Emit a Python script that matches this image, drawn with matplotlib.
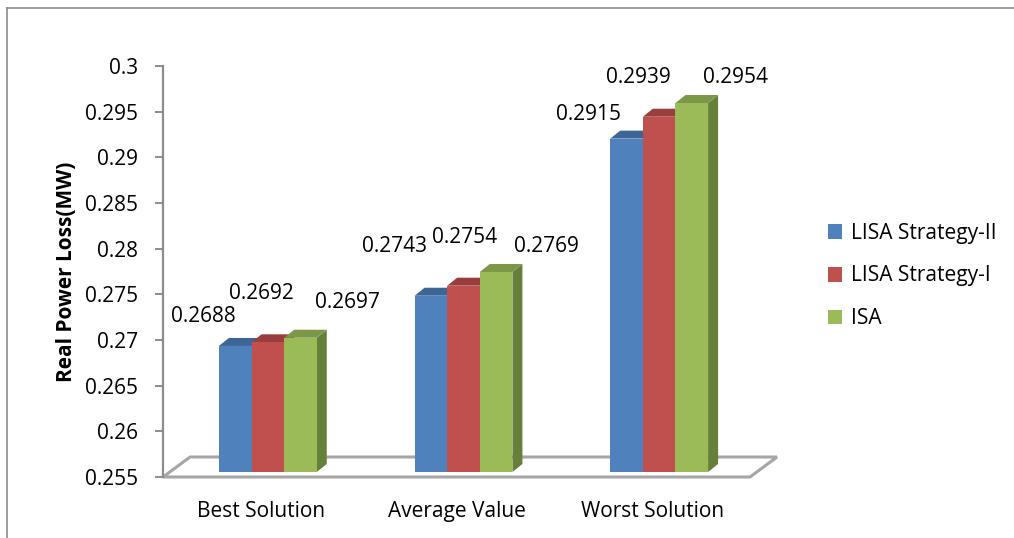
import matplotlib.pyplot as plt
from matplotlib.patches import Polygon, Rectangle, Patch

plt.rcParams['font.family'] = ['Open Sans', 'DejaVu Sans']

# data
categories = ['Best Solution', 'Average Value', 'Worst Solution']
series = ['LISA Strategy-II', 'LISA Strategy-I', 'ISA']
lisa2 = [0.2688, 0.2743, 0.2915]
lisa1 = [0.2692, 0.2754, 0.2939]
isa = [0.2697, 0.2769, 0.2954]
yticks = [0.255, 0.26, 0.265, 0.27, 0.275, 0.28, 0.285, 0.29, 0.295, 0.3]

front = ['#4F81BD', '#C0504D', '#9BBB59']
top = ['#3D6696', '#993E3C', '#7B9747']
side = ['#385D8A', '#8C3A38', '#66803A']

# label offsets in pixels from bar front-top centre (x right, y up)
label_off = [[(-32, 29), (-6, 49), (47, 35)],
             [(-36, 49), (1, 48), (50, 25)],
             [(-38, 24), (-21, 39), (44, 26)]]

fig = plt.figure(figsize=(10.14, 5.38), dpi=100)
ax = fig.add_axes([163 / 1014, 61 / 538, 587 / 1014, 411 / 538])
ymin, ymax = 0.255, 0.3
ax.set_xlim(-0.5, 2.5)
ax.set_ylim(ymin, ymax)

# pixel -> data unit factors
px_x = 3 / ax.bbox.width
px_y = (ymax - ymin) / ax.bbox.height

# floor
fdx, fdy = 27 * px_x, 20 * px_y
floor = Polygon([(-0.5, ymin), (2.5, ymin), (2.5 + fdx, ymin + fdy), (-0.5 + fdx, ymin + fdy)],
                closed=True, facecolor='white', edgecolor='#a6a6a6', lw=2.2, clip_on=False, zorder=1)
ax.add_patch(floor)

w = 1 / 6
sx, sy = 7 * px_x, 5 * px_y      # bars sit a bit back on the floor
dx, dy = 10 * px_x, 8 * px_y     # bar depth
vals = [lisa2, lisa1, isa]
for i in range(len(categories)):
    for j in range(3):
        v = vals[j][i]
        x0 = i + (j - 1) * w - w / 2 + sx
        x1 = x0 + w
        y0 = ymin + sy
        y1 = v + sy
        ax.add_patch(Polygon([(x1, y0), (x1 + dx, y0 + dy), (x1 + dx, y1 + dy), (x1, y1)],
                             closed=True, facecolor=side[j], edgecolor='none', clip_on=False, zorder=2))
        ax.add_patch(Polygon([(x0, y1), (x1, y1), (x1 + dx, y1 + dy), (x0 + dx, y1 + dy)],
                             closed=True, facecolor=top[j], edgecolor='none', clip_on=False, zorder=2))
        ax.add_patch(Rectangle((x0, y0), w, y1 - y0, facecolor=front[j], edgecolor='none',
                               clip_on=False, zorder=2))
        ox, oy = label_off[i][j]
        ax.annotate(f'{v:.4f}', xy=((x0 + x1) / 2, y1), xytext=(ox * 0.72, oy * 0.72),
                    textcoords='offset points', ha='center', va='center', fontsize=15,
                    zorder=5, annotation_clip=False)

for s in ['top', 'right', 'bottom']:
    ax.spines[s].set_visible(False)
ax.spines['left'].set_color('#8c8c8c')
ax.spines['left'].set_linewidth(1.6)
ax.set_yticks(yticks)
ax.set_yticklabels([f'{t:g}' for t in yticks])
ax.tick_params(axis='y', length=6, width=1.4, color='#8c8c8c', pad=12, labelsize=15)
ax.set_xticks(range(len(categories)))
ax.set_xticklabels(categories)
ax.tick_params(axis='x', length=0, pad=17, labelsize=15)
ax.set_ylabel('Real Power Loss(MW)', fontsize=15, fontweight='bold')
ax.yaxis.set_label_coords(-0.146, 0.5)
ax.patch.set_alpha(0)

handles = [Patch(facecolor=c, edgecolor='none') for c in front]
fig.legend(handles, series, loc='center left', bbox_to_anchor=(809 / 1014, 1 - 276 / 538),
           frameon=False, fontsize=15, handlelength=0.7, handleheight=0.7,
           labelspacing=1.05, handletextpad=0.4)

# outer frame
fig.add_artist(plt.Line2D([7 / 1014, 7 / 1014], [0, 1 - 8 / 538], color='#8c8c8c', lw=1.2))
fig.add_artist(plt.Line2D([7 / 1014, 1], [1 - 8 / 538, 1 - 8 / 538], color='#8c8c8c', lw=1.2))

fig.savefig('out.png', dpi=100)
